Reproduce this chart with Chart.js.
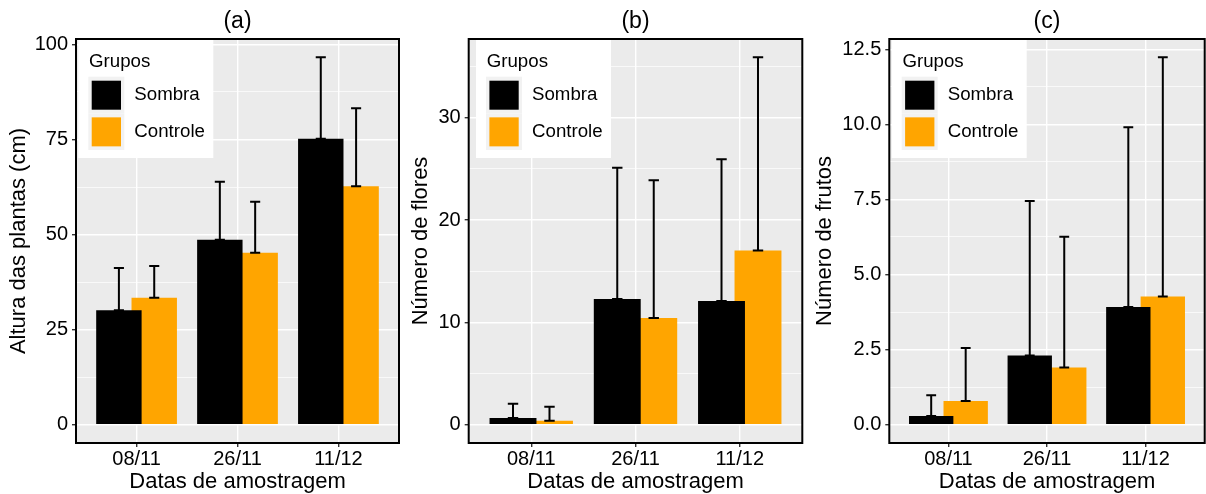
<!DOCTYPE html>
<html>
<head>
<meta charset="utf-8">
<script src="https://cdn.jsdelivr.net/npm/chart.js@4.4.1/dist/chart.umd.min.js"></script>
<style>
  body { margin: 0; background: #fff; }
  .painel { position: absolute; top: 0; }
</style>
</head>
<body>
<canvas id="graficoA" class="painel" width="402" height="494" style="left:0px"></canvas>
<canvas id="graficoB" class="painel" width="404" height="494" style="left:402px"></canvas>
<canvas id="graficoC" class="painel" width="400" height="494" style="left:806px"></canvas>
<script>
// --- DADOS ---
const datas = ['08/11', '26/11', '11/12'];
const grupos = ['Sombra', 'Controle'];
const coresGrupos = ['#000000', '#FFA500'];

// (a) altura das plantas
const alturaSombra = [30.1, 48.6, 75.2];
const alturaSombraDP = [11.1, 15.3, 21.4];
const alturaControle = [33.4, 45.2, 62.7];
const alturaControleDP = [8.3, 13.4, 20.5];
const ticksAltura = ['0', '25', '50', '75', '100'];

// (b) numero de flores
const floresSombra = [0.65, 12.28, 12.09];
const floresSombraDP = [1.38, 12.82, 13.86];
const floresControle = [0.39, 10.42, 17.03];
const floresControleDP = [1.37, 13.48, 18.87];
const ticksFlores = ['0', '10', '20', '30'];

// (c) numero de frutos
const frutosSombra = [0.29, 2.30, 3.92];
const frutosSombraDP = [0.69, 5.15, 5.98];
const frutosControle = [0.79, 1.90, 4.27];
const frutosControleDP = [1.76, 4.36, 7.96];
const ticksFrutos = ['0.0', '2.5', '5.0', '7.5', '10.0', '12.5'];

// --- ESTILO ---
const fonte = 'Liberation Sans, Arial, sans-serif';
Chart.defaults.font.family = fonte;
const desloc = 0.175;     // dodge de cada grupo
const larguraBarra = 0.45;

const paineis = [
    { id: 'graficoA', titulo: '(a)', tituloY: 'Altura das plantas (cm)', sombra: alturaSombra, sombraDP: alturaSombraDP,
      controle: alturaControle, controleDP: alturaControleDP, ticks: ticksAltura, eixoY: 76, dir: 3, legX: 2.3 },
    { id: 'graficoB', titulo: '(b)', tituloY: 'Número de flores', sombra: floresSombra, sombraDP: floresSombraDP,
      controle: floresControle, controleDP: floresControleDP, ticks: ticksFlores, eixoY: 66.7, dir: 3.7, legX: 7.3 },
    { id: 'graficoC', titulo: '(c)', tituloY: 'Número de frutos', sombra: frutosSombra, sombraDP: frutosSombraDP,
      controle: frutosControle, controleDP: frutosControleDP, ticks: ticksFrutos, eixoY: 83.3, dir: 1.3, legX: 2.4 }
];

const pluginPainel = {
    id: 'pluginPainel',
    beforeDraw(chart) {
        const { ctx, chartArea: a } = chart;
        ctx.save();
        ctx.fillStyle = '#EBEBEB';
        ctx.fillRect(a.left, a.top, a.right - a.left, a.bottom - a.top);
        ctx.restore();
    },
    afterDatasetsDraw(chart, args, opts) {
        const { ctx, chartArea: a } = chart;
        const xs = chart.scales.x, ys = chart.scales.y;
        // barras de erro (so a parte de cima)
        ctx.save();
        ctx.strokeStyle = '#000';
        ctx.lineWidth = 2;
        chart.data.datasets.forEach((ds, i) => {
            chart.getDatasetMeta(i).data.forEach((bar, j) => {
                const v = ds.data[j];
                const topo = ys.getPixelForValue(v.y + ds.dp[j]);
                const base = ys.getPixelForValue(v.y);
                const meia = xs.getPixelForValue(v.x + 0.05) - xs.getPixelForValue(v.x);
                ctx.beginPath();
                ctx.moveTo(bar.x, base); ctx.lineTo(bar.x, topo);
                ctx.moveTo(bar.x - meia, topo); ctx.lineTo(bar.x + meia, topo);
                ctx.moveTo(bar.x - meia, base); ctx.lineTo(bar.x + meia, base);
                ctx.stroke();
            });
        });
        // legenda dentro do painel
        const lx = a.left + opts.legX, ly = a.top + 1;
        ctx.fillStyle = '#fff';
        ctx.fillRect(lx, ly, 135, 118);
        ctx.fillStyle = '#000';
        ctx.font = '18.7px ' + fonte;
        ctx.textAlign = 'left';
        ctx.textBaseline = 'alphabetic';
        ctx.fillText('Grupos', lx + 10.7, ly + 26.7);
        chart.data.datasets.forEach((ds, k) => {
            const cy = ly + 36.7 + k * 36.65;
            ctx.fillStyle = '#F2F2F2';
            ctx.fillRect(lx + 10, cy, 36, 36.65);
            ctx.fillStyle = ds.backgroundColor;
            ctx.fillRect(lx + 13.4, cy + 4, 29.3, 29);
            ctx.fillStyle = '#000';
            ctx.textBaseline = 'middle';
            ctx.fillText(ds.label, lx + 56, cy + 18.5);
        });
        ctx.restore();
    },
    afterDraw(chart) {
        const { ctx, chartArea: a } = chart;
        ctx.save();
        ctx.strokeStyle = '#000';
        ctx.lineWidth = 2;
        ctx.strokeRect(a.left, a.top, a.right - a.left, a.bottom - a.top);
        ctx.restore();
    }
};

function criarPainel(p) {
    const maiores = p.ticks.map(parseFloat);
    const passo = maiores[1] - maiores[0];
    const maxTopo = Math.max(...p.sombra.map((v, i) => v + p.sombraDP[i]),
                             ...p.controle.map((v, i) => v + p.controleDP[i]));
    const yMin = -0.05 * maxTopo, yMax = 1.05 * maxTopo;
    const ehMaior = (v) => maiores.some(m => Math.abs(m - v) < 1e-9);

    const valoresTicks = [];
    for (let v = maiores[0]; v <= yMax + 1e-9; v += passo / 2) {
        if (v >= yMin) valoresTicks.push(v);
    }

    const series = [p.sombra, p.controle];
    const desvios = [p.sombraDP, p.controleDP];

    new Chart(document.getElementById(p.id), {
        type: 'bar',
        data: {
            datasets: grupos.map((g, k) => ({
                label: g,
                data: datas.map((d, i) => ({ x: i + 1 + (k === 0 ? -desloc : desloc), y: series[k][i] })),
                dp: desvios[k],
                backgroundColor: coresGrupos[k],
                borderWidth: 0,
                grouped: false,
                categoryPercentage: 1,
                barPercentage: larguraBarra / (2 * desloc)
            }))
        },
        options: {
            responsive: false,
            animation: false,
            devicePixelRatio: 1,
            layout: { padding: { left: 0, right: p.dir, top: 0, bottom: 0 } },
            plugins: {
                legend: { display: false },
                tooltip: { enabled: false },
                title: {
                    display: true, text: p.titulo, fullSize: false, color: '#000',
                    font: { size: 23, weight: 'normal', lineHeight: 1.2 },
                    padding: { top: 7.6, bottom: 3.8 }
                },
                pluginPainel: { legX: p.legX }
            },
            scales: {
                x: {
                    type: 'linear', min: 0.4, max: 3.6, offset: false,
                    afterBuildTicks: (s) => { s.ticks = datas.map((d, i) => ({ value: i + 1 })); },
                    afterFit: (s) => { s.height = 51; },
                    ticks: {
                        padding: 0, color: '#000', maxRotation: 0, autoSkip: false,
                        font: { size: 20 },
                        callback: (v) => datas[Math.round(v) - 1]
                    },
                    grid: { offset: false, color: '#fff', lineWidth: 1.4, tickColor: '#333', tickLength: 4, tickWidth: 1.4 },
                    border: { display: false },
                    title: {
                        display: true, text: 'Datas de amostragem', color: '#000',
                        font: { size: 22, weight: 'normal', lineHeight: 1 },
                        padding: { top: 0, bottom: 0.8 }
                    }
                },
                y: {
                    min: yMin, max: yMax,
                    afterBuildTicks: (s) => { s.ticks = valoresTicks.map(v => ({ value: v })); },
                    afterFit: (s) => { s.width = p.eixoY; },
                    ticks: {
                        autoSkip: false, padding: 4, color: '#000',
                        font: { size: 20 },
                        callback: (v) => {
                            const idx = maiores.findIndex(m => Math.abs(m - v) < 1e-9);
                            return idx >= 0 ? p.ticks[idx] : '';
                        }
                    },
                    grid: {
                        color: '#fff',
                        lineWidth: (c) => ehMaior(c.tick.value) ? 1.4 : 0.7,
                        tickColor: (c) => ehMaior(c.tick.value) ? '#333' : 'rgba(0,0,0,0)',
                        tickLength: 4, tickWidth: 1.4
                    },
                    border: { display: false },
                    title: {
                        display: true, text: p.tituloY, color: '#000',
                        font: { size: 22, weight: 'normal', lineHeight: 1.2 },
                        padding: { top: 6, bottom: 0 }
                    }
                }
            }
        },
        plugins: [pluginPainel]
    });
}

paineis.forEach(criarPainel);
</script>
</body>
</html>
